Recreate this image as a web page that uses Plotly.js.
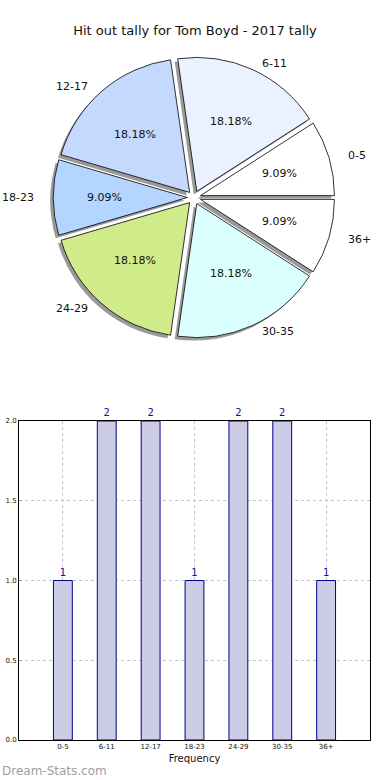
<!DOCTYPE html>
<html>
<head>
<meta charset="utf-8">
<script src="https://cdn.plot.ly/plotly-3.0.1.min.js"></script>
<style>html,body{margin:0;padding:0;background:#fff;}#chart{width:390px;height:780px;}</style>
</head>
<body>
<div id="chart"></div>
<script>
// ---- data ----
const categories = ["0-5", "6-11", "12-17", "18-23", "24-29", "30-35", "36+"];
const counts = [1, 2, 2, 1, 2, 2, 1];
const sliceColors = ["#ffffff", "#eaf1ff", "#c5d9ff", "#b4d5ff", "#d0eb8a", "#dbffff", "#ffffff"];
const yTickVals = [0, 0.5, 1.0, 1.5, 2.0];
const yTickText = ["0.0", "0.5", "1.0", "1.5", "2.0"];
const chartTitle = "Hit out tally for Tom Boyd - 2017 tally";

// ---- layout helpers (pixels -> paper) ----
const W = 390, H = 780;
const px = x => x / W;
const py = y => 1 - y / H;

const total = counts.reduce((a, b) => a + b, 0);
const pieCx = 194, pieCy = 197.5, pieR = 134, pull = 0.05;
const half = pieR * (1 + pull);
const shadowDx = -3, shadowDy = 3;
// first slice must start at 3 o'clock and run counterclockwise
const pieRotation = 90 - 360 * counts[0] / total;

const pieDomain = {x: [px(pieCx - half), px(pieCx + half)], y: [py(pieCy + half), py(pieCy - half)]};
const shadowDomain = {x: [px(pieCx - half + shadowDx), px(pieCx + half + shadowDx)], y: [py(pieCy + half + shadowDy), py(pieCy - half + shadowDy)]};

const shadow = {
  type: "pie", labels: categories, values: counts, sort: false,
  direction: "counterclockwise", rotation: pieRotation,
  pull: categories.map(() => pull), domain: shadowDomain,
  marker: {colors: categories.map(() => "rgba(120,120,120,0.75)"), line: {width: 0}},
  textinfo: "none", hoverinfo: "skip", showlegend: false
};
const pie = {
  type: "pie", labels: categories, values: counts, sort: false,
  direction: "counterclockwise", rotation: pieRotation,
  pull: categories.map(() => pull), domain: pieDomain,
  marker: {colors: sliceColors, line: {color: "#000", width: 0.8}},
  textinfo: "none", showlegend: false
};

const bars = {
  type: "bar", x: categories, y: counts, width: 0.43,
  marker: {color: "#ccccE6", line: {color: "#00008b", width: 1}},
  text: counts.map(String), textposition: "outside", cliponaxis: false,
  textfont: {family: "DejaVu Sans", size: 10, color: "#1010a0"},
  xaxis: "x", yaxis: "y", showlegend: false
};

// pie labels and percentages, positioned from the cumulative values
const annotations = [];
let cum = 0;
const pullPx = pieR * pull;
counts.forEach((v, i) => {
  const mid = 2 * Math.PI * (cum + v / 2) / total;
  cum += v;
  const c = Math.cos(mid), s = Math.sin(mid);
  const ox = pieCx + pullPx * c, oy = pieCy - pullPx * s;
  annotations.push({
    xref: "paper", yref: "paper", showarrow: false,
    x: px(ox + 1.1 * 138 * c), y: py(oy - 1.1 * 128 * s),
    xanchor: c > 0 ? "left" : "right", yanchor: "middle",
    text: categories[i], font: {family: "DejaVu Sans", size: 11, color: "#111"}
  });
  annotations.push({
    xref: "paper", yref: "paper", showarrow: false,
    x: px(ox + 0.6 * 138 * c), y: py(oy - 0.6 * 128 * s),
    xanchor: "center", yanchor: "middle",
    text: (100 * v / total).toFixed(2) + "%", font: {family: "DejaVu Sans", size: 11, color: "#111"}
  });
});
annotations.push({
  xref: "paper", yref: "paper", showarrow: false,
  x: px(0), y: py(771), xanchor: "left", yanchor: "middle",
  text: "Dream-Stats.com", font: {family: "DejaVu Sans", size: 12, color: "#a0a0a0"}
});

const layout = {
  width: W, height: H,
  margin: {l: 0, r: 0, t: 0, b: 0},
  paper_bgcolor: "#fff", plot_bgcolor: "#fff",
  font: {family: "DejaVu Sans", color: "#111"},
  title: {text: chartTitle, x: 0.5, xanchor: "center", y: py(30), yanchor: "middle",
          font: {family: "DejaVu Sans", size: 13, color: "#111"}},
  xaxis: {
    domain: [px(19), px(370)], range: [-1, 7], type: "category",
    showline: true, mirror: true, linecolor: "#000", linewidth: 1,
    showgrid: true, gridcolor: "#c4c4c4", griddash: "dot", gridwidth: 1,
    ticks: "", tickfont: {family: "DejaVu Sans", size: 7, color: "#111"},
    title: {text: "Frequency", font: {family: "DejaVu Sans", size: 10, color: "#111"}, standoff: 4},
    zeroline: false, fixedrange: true, anchor: "y"
  },
  yaxis: {
    domain: [py(740), py(421)], range: [0, 2],
    showline: true, mirror: true, linecolor: "#000", linewidth: 1,
    showgrid: true, gridcolor: "#c4c4c4", griddash: "dot", gridwidth: 1,
    tickvals: yTickVals, ticktext: yTickText,
    ticks: "inside", ticklen: 3, tickcolor: "#999",
    tickfont: {family: "DejaVu Sans", size: 7, color: "#111"},
    zeroline: false, fixedrange: true, anchor: "x"
  },
  annotations: annotations,
  showlegend: false
};

Plotly.newPlot("chart", [shadow, pie, bars], layout, {displayModeBar: false, staticPlot: true});
</script>
</body>
</html>
